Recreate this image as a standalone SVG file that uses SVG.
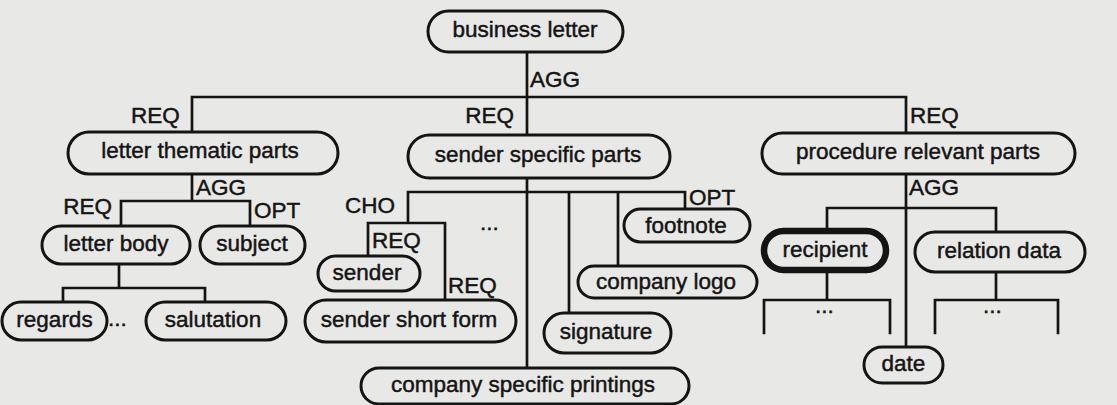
<svg xmlns="http://www.w3.org/2000/svg" width="1117" height="405" viewBox="0 0 1117 405">
  <style>
    .bg { fill: #e8e8e6; }
    .pill { fill: #e8e8e6; stroke: #141414; stroke-width: 3; }
    .pill.strong { stroke-width: 6.5; }
    .wire { fill: none; stroke: #141414; stroke-width: 2.7; stroke-linecap: square; }
    text { font-family: "Liberation Sans", Arial, Helvetica, sans-serif; font-size: 22.5px; fill: #141414; stroke: #141414; stroke-width: 0.45; }
    .name { text-anchor: middle; }
  </style>

  <rect class="bg" x="0" y="0" width="1117" height="405"/>

  <!-- tree connectors and their relation labels -->
  <g id="connectors">
    <path class="wire" d="M527 52 V135 M192 97 H906 M192 97 V132 M906 97 V133"/>
    <!-- letter thematic parts -->
    <path class="wire" d="M192 174 V201 M121 201 H250 M121 201 V226 M250 201 V226"/>
    <path class="wire" d="M119 264 V288 M63 288 H205 M63 288 V302 M205 288 V302"/>
    <!-- sender specific parts -->
    <path class="wire" d="M527 178 V368 M408 192 H685 M408 192 V223 M368 223 H445 M368 223 V256 M445 223 V300 M569 192 V313 M618 192 V266 M685 192 V209"/>
    <!-- procedure relevant parts -->
    <path class="wire" d="M906 174 V347 M827 208 H996 M827 208 V230 M996 208 V232"/>
    <path class="wire" d="M827 270 V300 M764 300 H890 M764 300 V333 M890 300 V333"/>
    <path class="wire" d="M996 272 V300 M935 300 H1058 M935 300 V333 M1058 300 V333"/>

    <g id="relation-labels">
      <text x="530" y="87">AGG</text>
      <text x="131" y="123">REQ</text>
      <text x="514" y="123" text-anchor="end">REQ</text>
      <text x="910" y="123">REQ</text>
      <text x="196" y="195">AGG</text>
      <text x="112" y="214" text-anchor="end">REQ</text>
      <text x="254" y="218">OPT</text>
      <text x="395" y="213" text-anchor="end">CHO</text>
      <text x="372" y="248">REQ</text>
      <text x="448" y="293">REQ</text>
      <text x="689" y="205">OPT</text>
      <text x="909" y="195">AGG</text>
      <text x="480" y="230">...</text>
      <text x="108" y="326">...</text>
      <text x="815" y="313">...</text>
      <text x="983" y="313">...</text>
    </g>
  </g>

  <g id="business-letter">
    <rect class="pill" x="428" y="11" width="195" height="41" rx="20.5"/>
    <text class="name" x="525" y="37">business letter</text>
  </g>

  <g id="letter-thematic-parts">
    <rect class="pill" x="68" y="132" width="270" height="42" rx="21"/>
    <text class="name" x="200" y="158">letter thematic parts</text>
  </g>
  <g id="sender-specific-parts">
    <rect class="pill" x="408" y="135" width="262" height="43" rx="21.5"/>
    <text class="name" x="538" y="162">sender specific parts</text>
  </g>
  <g id="procedure-relevant-parts">
    <rect class="pill" x="762" y="133" width="313" height="41" rx="20.5"/>
    <text class="name" x="918" y="159">procedure relevant parts</text>
  </g>

  <g id="letter-body">
    <rect class="pill" x="42" y="226" width="148" height="38" rx="19"/>
    <text class="name" x="116" y="251">letter body</text>
  </g>
  <g id="subject">
    <rect class="pill" x="200" y="226" width="105" height="38" rx="19"/>
    <text class="name" x="252" y="251">subject</text>
  </g>
  <g id="regards">
    <rect class="pill" x="2" y="302" width="105" height="38" rx="19"/>
    <text class="name" x="54.5" y="327">regards</text>
  </g>
  <g id="salutation">
    <rect class="pill" x="146" y="302" width="140" height="38" rx="19"/>
    <text class="name" x="213" y="327">salutation</text>
  </g>

  <g id="sender">
    <rect class="pill" x="318" y="256" width="102" height="35" rx="17.5"/>
    <text class="name" x="367" y="280">sender</text>
  </g>
  <g id="sender-short-form">
    <rect class="pill" x="305" y="300" width="211" height="42" rx="21"/>
    <text class="name" x="409" y="327">sender short form</text>
  </g>
  <g id="footnote">
    <rect class="pill" x="624" y="209" width="126" height="33" rx="16.5"/>
    <text class="name" x="686" y="233">footnote</text>
  </g>
  <g id="company-logo">
    <rect class="pill" x="578" y="266" width="179" height="32" rx="16"/>
    <text class="name" x="666" y="289">company logo</text>
  </g>
  <g id="signature">
    <rect class="pill" x="544" y="313" width="127" height="40" rx="20"/>
    <text class="name" x="606" y="339">signature</text>
  </g>
  <g id="company-specific-printings">
    <rect class="pill" x="361" y="368" width="328" height="36" rx="18"/>
    <text class="name" x="523" y="392">company specific printings</text>
  </g>

  <g id="recipient">
    <rect class="pill strong" x="764" y="231" width="122" height="39" rx="19.5"/>
    <text class="name" x="825" y="257">recipient</text>
  </g>
  <g id="relation-data">
    <rect class="pill" x="915" y="232" width="170" height="40" rx="20"/>
    <text class="name" x="999" y="258">relation data</text>
  </g>
  <g id="date">
    <rect class="pill" x="864" y="347" width="79" height="36" rx="18"/>
    <text class="name" x="903.5" y="371">date</text>
  </g>
</svg>
